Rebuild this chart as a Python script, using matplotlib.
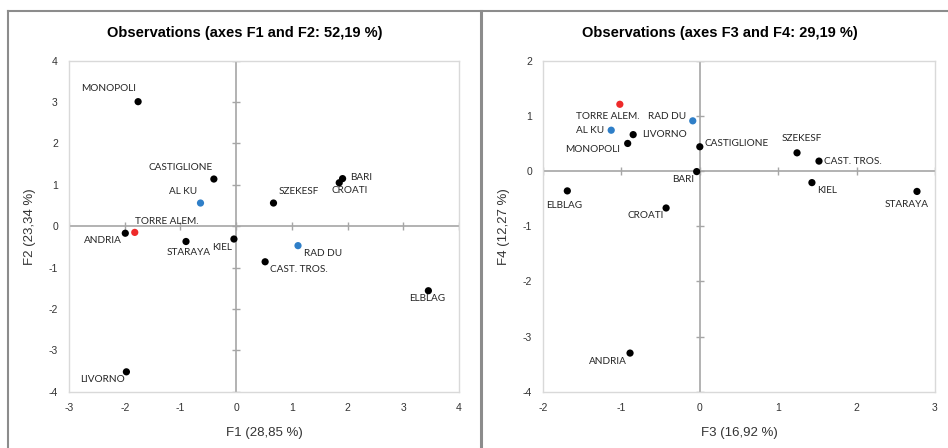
import matplotlib.pyplot as plt
from matplotlib.lines import Line2D

plt.rcParams['axes.unicode_minus'] = False

# dados (coordenadas das observacoes)
cidades = ['ANDRIA', 'BARI', 'CASTIGLIONE', 'LIVORNO', 'MONOPOLI', 'TORRE ALEM.',
           'CROATI', 'ELBLAG', 'KIEL', 'CAST. TROS.', 'STARAYA', 'SZEKESF',
           'AL KU', 'RAD DU']
grupo = ['k', 'k', 'k', 'k', 'k', 'r', 'k', 'k', 'k', 'k', 'k', 'k', 'b', 'b']
f1 = [-1.99, 1.91, -0.40, -1.97, -1.76, -1.82, 1.85, 3.45, -0.04, 0.52, -0.90, 0.67, -0.64, 1.11]
f2 = [-0.17, 1.15, 1.14, -3.52, 3.01, -0.15, 1.05, -1.56, -0.31, -0.86, -0.37, 0.56, 0.56, -0.47]
f3 = [-0.89, -0.04, 0.00, -0.85, -0.92, -1.02, -0.43, -1.69, 1.43, 1.52, 2.77, 1.24, -1.13, -0.09]
f4 = [-3.30, -0.01, 0.44, 0.66, 0.50, 1.21, -0.67, -0.36, -0.21, 0.18, -0.37, 0.33, 0.74, 0.91]

titulos = ['Observations (axes F1 and F2: 52,19 %)', 'Observations (axes F3 and F4: 29,19 %)']
xlabels = ['F1 (28,85 %)', 'F3 (16,92 %)']
ylabels = ['F2 (23,34 %)', 'F4 (12,27 %)']
xlims = [(-3, 4), (-2, 3)]
ylims = [(-4, 4), (-4, 2)]

cores = {'k': 'black', 'r': '#ee2a2a', 'b': '#2f7fc8'}

# posicao dos rotulos: (alinhamento, dx, dy) em pixels
rotulos_esq = {
    'MONOPOLI': ('right', -2, 13), 'CASTIGLIONE': ('right', -1, 12),
    'AL KU': ('right', -3, 12), 'TORRE ALEM.': ('left', 0, 11),
    'ANDRIA': ('right', -3, -7), 'STARAYA': ('center', 3, -11),
    'KIEL': ('right', -2, -8), 'SZEKESF': ('left', 5, 12),
    'BARI': ('left', 8, 1), 'CROATI': ('center', 10, -8),
    'RAD DU': ('left', 6, -8), 'CAST. TROS.': ('left', 5, -8),
    'ELBLAG': ('center', -1, -8), 'LIVORNO': ('right', -2, -8),
}
rotulos_dir = {
    'TORRE ALEM.': ('center', -12, -12), 'RAD DU': ('right', -7, 4),
    'AL KU': ('right', -7, 0), 'LIVORNO': ('left', 9, 0),
    'MONOPOLI': ('right', -8, -6), 'CASTIGLIONE': ('left', 5, 3),
    'BARI': ('right', -2, -8), 'ELBLAG': ('center', -3, -15),
    'CROATI': ('right', -2, -8), 'SZEKESF': ('center', 5, 14),
    'CAST. TROS.': ('left', 5, 0), 'KIEL': ('left', 5, -8),
    'STARAYA': ('center', -10, -13), 'ANDRIA': ('right', -3, -8),
}

fig = plt.figure(figsize=(9.48, 4.48), dpi=100)
fig.patch.set_facecolor('white')

ax1 = fig.add_axes([0.0728, 0.1257, 0.4114, 0.7388])
ax2 = fig.add_axes([0.5728, 0.1257, 0.4135, 0.7388])

paineis = [(ax1, f1, f2, rotulos_esq), (ax2, f3, f4, rotulos_dir)]

for i, (ax, xs, ys, rot) in enumerate(paineis):
    ax.set_xlim(xlims[i])
    ax.set_ylim(ylims[i])
    for s in ax.spines.values():
        s.set_color('#d9d9d9')
        s.set_linewidth(1.0)

    # eixos em zero com marcas
    ax.axhline(0, color='#a6a6a6', lw=1.2, zorder=1)
    ax.axvline(0, color='#a6a6a6', lw=1.2, zorder=1)
    xt = list(range(xlims[i][0], xlims[i][1] + 1))
    yt = list(range(ylims[i][0], ylims[i][1] + 1))
    ax.plot(xt, [0] * len(xt), ls='none', marker='|', ms=6, mew=1.0, color='#a6a6a6', zorder=1)
    ax.plot([0] * len(yt), yt, ls='none', marker='_', ms=6, mew=1.0, color='#a6a6a6', zorder=1)

    ax.set_xticks(xt)
    ax.set_yticks(yt)
    ax.tick_params(length=0, pad=8, labelsize=7.5, labelcolor='#333333')
    for lb in ax.get_xticklabels() + ax.get_yticklabels():
        lb.set_family('Liberation Sans')

    ax.scatter(xs, ys, s=27, c=[cores[g] for g in grupo], zorder=3, linewidths=0)

    for nome, x, y in zip(cidades, xs, ys):
        ha, dx, dy = rot[nome]
        ax.annotate(nome, (x, y), xytext=(dx, dy), textcoords='offset pixels',
                    ha=ha, va='center', fontsize=7.2, family='Lato', color='#262626')

    ax.set_xlabel(xlabels[i], fontsize=9.5, family='Liberation Sans', color='#333333')
    ax.xaxis.set_label_coords(0.5, -0.106)
    ax.set_ylabel(ylabels[i], fontsize=9.5, family='Liberation Sans', color='#333333')
    ax.yaxis.set_label_coords(-0.085, 0.5)

# titulos
fig.text(244.5 / 948, 1 - 33 / 448, titulos[0], ha='center', va='center',
         fontsize=10.5, fontweight='bold', family='Liberation Sans')
fig.text(720 / 948, 1 - 33 / 448, titulos[1], ha='center', va='center',
         fontsize=10.5, fontweight='bold', family='Liberation Sans')

# bordas dos paineis
fig.add_artist(Line2D([8 / 948, 1], [1 - 11 / 448] * 2, color='#8c8c8c', lw=1.5))
fig.add_artist(Line2D([8 / 948] * 2, [0, 1 - 11 / 448], color='#8c8c8c', lw=1.5))
fig.add_artist(Line2D([481 / 948] * 2, [0, 1 - 11 / 448], color='#8c8c8c', lw=2.2))

fig.savefig('out.png', dpi=100)
